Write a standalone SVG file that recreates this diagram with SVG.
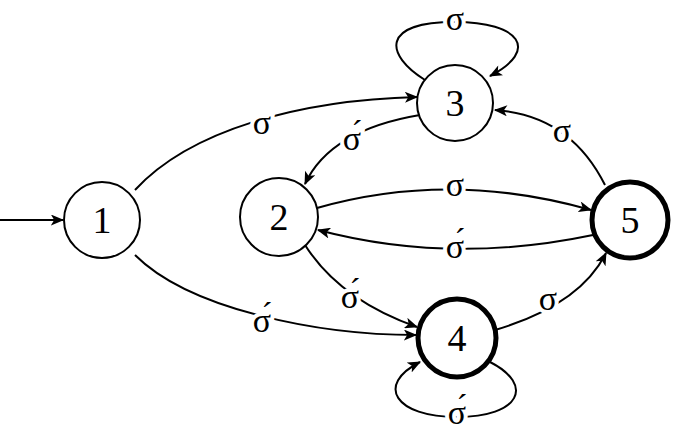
<svg xmlns="http://www.w3.org/2000/svg" width="679" height="444" viewBox="0 0 679 444">
<style>
.n{fill:#fff;stroke:#000;stroke-width:2}
.f{fill:#fff;stroke:#000;stroke-width:5}
.t{font-family:"Liberation Serif",serif;font-size:38px;text-anchor:middle;dominant-baseline:central}
.e{fill:none;stroke:#000;stroke-width:2;marker-end:url(#a)}
.l{font-family:"Liberation Serif",serif;font-size:34px;text-anchor:middle;dominant-baseline:central;stroke:#fff;stroke-width:8;paint-order:stroke;fill:#000}
</style>
<defs><marker id="a" viewBox="0 0 12 10" refX="11" refY="5" markerWidth="14" markerHeight="11" markerUnits="userSpaceOnUse" orient="auto"><path d="M0,0 L12,5 L0,10 L3,5 Z" fill="#000"/></marker></defs>
<rect width="679" height="444" fill="#fff"/>
<g id="edges">
<path class="e" d="M0,220 L63,220"/>
<path class="e" d="M135,190 C190,130 300,100 417,97"/>
<path class="e" d="M135,255 C190,310 320,335 416,335"/>
<path class="e" d="M420,115 Q330,130 305,184"/>
<path class="e" d="M317,208 Q450,170 591,210"/>
<path class="e" d="M593,235 Q450,265 318,230"/>
<path class="e" d="M305,245 Q340,300 417,327"/>
<path class="e" d="M495,330 Q580,305 606,253"/>
<path class="e" d="M605,185 Q570,115 495,110"/>
<path class="e" d="M425,80 C385,55 380,22 455,22 C520,22 540,50 490,76"/>
<path class="e" d="M490,362 C535,385 520,417 457,417 C395,417 375,385 420,362"/>
<text class="l" x="262" y="122">σ</text>
<text class="l" x="262" y="320">σ́</text>
<text class="l" x="352" y="138">σ́</text>
<text class="l" x="455" y="184">σ</text>
<text class="l" x="455" y="246">σ́</text>
<text class="l" x="350" y="296">σ́</text>
<text class="l" x="548" y="298">σ</text>
<text class="l" x="562" y="130">σ</text>
<text class="l" x="455" y="18">σ</text>
<text class="l" x="457" y="412">σ́</text>
</g>
<g id="n1"><circle class="n" cx="102" cy="220" r="38"/><text class="t" x="102" y="220">1</text></g>
<g id="n2"><circle class="n" cx="279" cy="217" r="39"/><text class="t" x="279" y="217">2</text></g>
<g id="n3"><circle class="n" cx="455" cy="103" r="38"/><text class="t" x="455" y="103">3</text></g>
<g id="n4"><circle class="f" cx="457" cy="338" r="39"/><text class="t" x="457" y="338">4</text></g>
<g id="n5"><circle class="f" cx="630" cy="220" r="38"/><text class="t" x="630" y="220">5</text></g>
</svg>
